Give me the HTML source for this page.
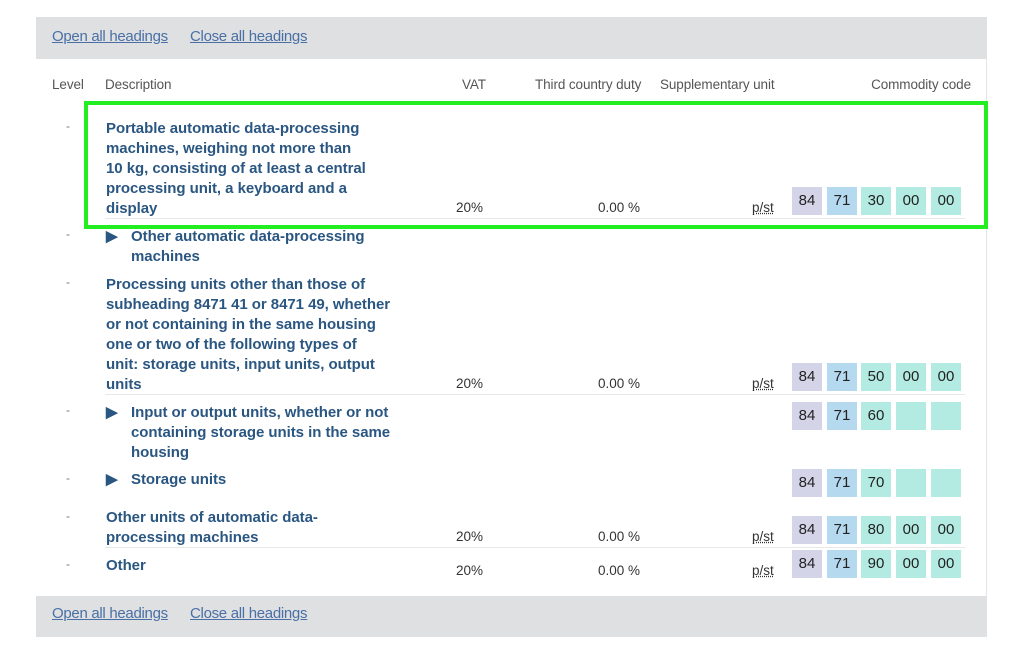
<!DOCTYPE html>
<html><head><meta charset="utf-8"><style>
body{margin:0;width:1024px;height:665px;background:#fff;position:relative;font-family:"Liberation Sans",sans-serif;overflow:hidden}
.a{position:absolute;white-space:nowrap}
.band{position:absolute;left:36px;width:951px;background:#dee0e2}
.lnk{color:#4a6fa5;text-decoration:underline;font-size:15px;letter-spacing:-0.3px}
.h{font-size:13.5px;color:#555;letter-spacing:-0.1px;line-height:20px}
.d{font-size:15px;font-weight:bold;color:#2a5682;line-height:20px;letter-spacing:-0.05px}
.v{font-size:13.5px;color:#333;line-height:20px}
.dash{font-size:12px;color:#777;line-height:20px}
.b{position:absolute;width:30px;height:28px;line-height:28px;text-align:center;font-size:15px;color:#222}
.c1{background:#d3d4e8}.c2{background:#b5d9ee}.c3{background:#b3ebe3}
.sep{position:absolute;left:105px;width:860px;height:1px;background:#e8e8e8}
.tri{color:#2a5682;font-size:15px}
.ps{text-decoration:underline dotted;}
</style></head><body>
<div style="position:absolute;left:36px;top:17px;width:950px;height:620px;border-right:1px solid #e4e4e4"></div>
<div class="band" style="top:17px;height:42px"></div>
<div class="band" style="top:596px;height:41px"></div>
<div class="a lnk" style="left:52px;top:28px">Open all headings</div>
<div class="a lnk" style="left:190px;top:28px">Close all headings</div>
<div class="a lnk" style="left:52px;top:605px">Open all headings</div>
<div class="a lnk" style="left:190px;top:605px">Close all headings</div>

<div class="a h" style="left:52px;top:75px">Level</div>
<div class="a h" style="left:105px;top:75px">Description</div>
<div class="a h" style="left:462px;top:75px">VAT</div>
<div class="a h" style="left:535px;top:75px">Third country duty</div>
<div class="a h" style="left:660px;top:75px">Supplementary unit</div>
<div class="a h" style="right:53px;top:75px">Commodity code</div>

<!-- row 1 -->
<div class="a dash" style="left:66px;top:116px">-</div>
<div class="a d" style="left:106px;top:119px">Portable automatic data-processing<br>machines, weighing not more than<br>10 kg, consisting of at least a central<br>processing unit, a keyboard and a<br>display</div>
<div class="a v" style="left:456px;top:198px">20%</div>
<div class="a v" style="left:598px;top:198px">0.00 %</div>
<div class="a v ps" style="left:752px;top:198px">p/st</div>
<div class="b c1" style="left:792px;top:187px">84</div><div class="b c2" style="left:827px;top:187px">71</div><div class="b c3" style="left:861px;top:187px">30</div><div class="b c3" style="left:896px;top:187px">00</div><div class="b c3" style="left:931px;top:187px">00</div>
<div class="sep" style="top:218px"></div>
<div style="position:absolute;left:84px;top:101px;width:896px;height:120px;border:4px solid #22ee22"></div>

<!-- row 2 -->
<div class="a dash" style="left:66px;top:224px">-</div>
<div class="a d" style="left:106px;top:227px"><span class="tri">▶</span></div>
<div class="a d" style="left:131px;top:227px">Other automatic data-processing<br>machines</div>

<!-- row 3 -->
<div class="a dash" style="left:66px;top:272px">-</div>
<div class="a d" style="left:106px;top:275px">Processing units other than those of<br>subheading 8471 41 or 8471 49, whether<br>or not containing in the same housing<br>one or two of the following types of<br>unit: storage units, input units, output<br>units</div>
<div class="a v" style="left:456px;top:374px">20%</div>
<div class="a v" style="left:598px;top:374px">0.00 %</div>
<div class="a v ps" style="left:752px;top:374px">p/st</div>
<div class="b c1" style="left:792px;top:363px">84</div><div class="b c2" style="left:827px;top:363px">71</div><div class="b c3" style="left:861px;top:363px">50</div><div class="b c3" style="left:896px;top:363px">00</div><div class="b c3" style="left:931px;top:363px">00</div>
<div class="sep" style="top:394px"></div>

<!-- row 4 -->
<div class="a dash" style="left:66px;top:400px">-</div>
<div class="a d" style="left:106px;top:403px"><span class="tri">▶</span></div>
<div class="a d" style="left:131px;top:403px">Input or output units, whether or not<br>containing storage units in the same<br>housing</div>
<div class="b c1" style="left:792px;top:402px">84</div><div class="b c2" style="left:827px;top:402px">71</div><div class="b c3" style="left:861px;top:402px">60</div><div class="b c3" style="left:896px;top:402px"></div><div class="b c3" style="left:931px;top:402px"></div>

<!-- row 5 -->
<div class="a dash" style="left:66px;top:468px">-</div>
<div class="a d" style="left:106px;top:470px"><span class="tri">▶</span></div>
<div class="a d" style="left:131px;top:470px">Storage units</div>
<div class="b c1" style="left:792px;top:469px">84</div><div class="b c2" style="left:827px;top:469px">71</div><div class="b c3" style="left:861px;top:469px">70</div><div class="b c3" style="left:896px;top:469px"></div><div class="b c3" style="left:931px;top:469px"></div>

<!-- row 6 -->
<div class="a dash" style="left:66px;top:506px">-</div>
<div class="a d" style="left:106px;top:508px">Other units of automatic data-<br>processing machines</div>
<div class="a v" style="left:456px;top:527px">20%</div>
<div class="a v" style="left:598px;top:527px">0.00 %</div>
<div class="a v ps" style="left:752px;top:527px">p/st</div>
<div class="b c1" style="left:792px;top:516px">84</div><div class="b c2" style="left:827px;top:516px">71</div><div class="b c3" style="left:861px;top:516px">80</div><div class="b c3" style="left:896px;top:516px">00</div><div class="b c3" style="left:931px;top:516px">00</div>
<div class="sep" style="top:547px"></div>

<!-- row 7 -->
<div class="a dash" style="left:66px;top:554px">-</div>
<div class="a d" style="left:106px;top:556px">Other</div>
<div class="a v" style="left:456px;top:561px">20%</div>
<div class="a v" style="left:598px;top:561px">0.00 %</div>
<div class="a v ps" style="left:752px;top:561px">p/st</div>
<div class="b c1" style="left:792px;top:550px">84</div><div class="b c2" style="left:827px;top:550px">71</div><div class="b c3" style="left:861px;top:550px">90</div><div class="b c3" style="left:896px;top:550px">00</div><div class="b c3" style="left:931px;top:550px">00</div>
</body></html>
